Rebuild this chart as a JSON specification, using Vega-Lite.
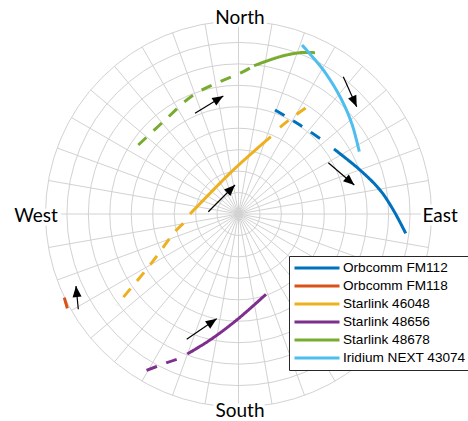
{
  "$schema": "https://vega.github.io/schema/vega-lite/v6.json",
  "width": 386,
  "height": 386,
  "autosize": {"type": "none"},
  "padding": {"left": 45.5, "top": 21, "right": 36.5, "bottom": 14},
  "config": {"view": {"stroke": null}},
  "datasets": {
    "circles": [{"r": 10}, {"r": 20}, {"r": 30}, {"r": 40}, {"r": 50}, {"r": 60}, {"r": 70}, {"r": 80}, {"r": 90}],
    "radials": [
      {"x": 0, "y": 90, "x2": 0, "y2": -90},
      {"x": 15.63, "y": 88.63, "x2": -15.63, "y2": -88.63},
      {"x": 30.78, "y": 84.57, "x2": -30.78, "y2": -84.57},
      {"x": 45.0, "y": 77.94, "x2": -45.0, "y2": -77.94},
      {"x": 57.85, "y": 68.94, "x2": -57.85, "y2": -68.94},
      {"x": 68.94, "y": 57.85, "x2": -68.94, "y2": -57.85},
      {"x": 77.94, "y": 45.0, "x2": -77.94, "y2": -45.0},
      {"x": 84.57, "y": 30.78, "x2": -84.57, "y2": -30.78},
      {"x": 88.63, "y": 15.63, "x2": -88.63, "y2": -15.63},
      {"x": 90, "y": 0, "x2": -90, "y2": 0},
      {"x": 88.63, "y": -15.63, "x2": -88.63, "y2": 15.63},
      {"x": 84.57, "y": -30.78, "x2": -84.57, "y2": 30.78},
      {"x": 77.94, "y": -45.0, "x2": -77.94, "y2": 45.0},
      {"x": 68.94, "y": -57.85, "x2": -68.94, "y2": 57.85},
      {"x": 57.85, "y": -68.94, "x2": -57.85, "y2": 68.94},
      {"x": 45.0, "y": -77.94, "x2": -45.0, "y2": 77.94},
      {"x": 30.78, "y": -84.57, "x2": -30.78, "y2": 84.57},
      {"x": 15.63, "y": -88.63, "x2": -15.63, "y2": 88.63}
    ],
    "tracks": [
      {"sat": "Starlink 48678", "seg": "g1", "dash": "dashed", "ord": 1, "x": -46.72, "y": 32.18},
      {"sat": "Starlink 48678", "seg": "g1", "dash": "dashed", "ord": 2, "x": -35.07, "y": 43.04},
      {"sat": "Starlink 48678", "seg": "g1", "dash": "dashed", "ord": 3, "x": -21.08, "y": 55.49},
      {"sat": "Starlink 48678", "seg": "g1", "dash": "dashed", "ord": 4, "x": -8.63, "y": 61.69},
      {"sat": "Starlink 48678", "seg": "g1", "dash": "dashed", "ord": 5, "x": 2.24, "y": 66.36},
      {"sat": "Starlink 48678", "seg": "g1", "dash": "dashed", "ord": 6, "x": 7.23, "y": 69.15},
      {"sat": "Starlink 48678", "seg": "g2", "dash": "solid", "ord": 1, "x": 7.23, "y": 69.15},
      {"sat": "Starlink 48678", "seg": "g2", "dash": "solid", "ord": 2, "x": 19.35, "y": 73.35},
      {"sat": "Starlink 48678", "seg": "g2", "dash": "solid", "ord": 3, "x": 28.68, "y": 75.22},
      {"sat": "Starlink 48678", "seg": "g2", "dash": "solid", "ord": 4, "x": 35.67, "y": 75.22},
      {"sat": "Iridium NEXT 43074", "seg": "c1", "dash": "solid", "ord": 1, "x": 29.61, "y": 78.81},
      {"sat": "Iridium NEXT 43074", "seg": "c1", "dash": "solid", "ord": 2, "x": 39.54, "y": 67.15},
      {"sat": "Iridium NEXT 43074", "seg": "c1", "dash": "solid", "ord": 3, "x": 47.33, "y": 54.7},
      {"sat": "Iridium NEXT 43074", "seg": "c1", "dash": "solid", "ord": 4, "x": 52.79, "y": 42.29},
      {"sat": "Iridium NEXT 43074", "seg": "c1", "dash": "solid", "ord": 5, "x": 56.33, "y": 29.05},
      {"sat": "Orbcomm FM112", "seg": "b1", "dash": "dashed", "ord": 1, "x": 17.02, "y": 48.5},
      {"sat": "Orbcomm FM112", "seg": "b1", "dash": "dashed", "ord": 2, "x": 28.68, "y": 41.5},
      {"sat": "Orbcomm FM112", "seg": "b1", "dash": "dashed", "ord": 3, "x": 39.54, "y": 34.18},
      {"sat": "Orbcomm FM112", "seg": "b2", "dash": "solid", "ord": 1, "x": 44.53, "y": 30.31},
      {"sat": "Orbcomm FM112", "seg": "b2", "dash": "solid", "ord": 2, "x": 56.66, "y": 20.52},
      {"sat": "Orbcomm FM112", "seg": "b2", "dash": "solid", "ord": 3, "x": 65.98, "y": 11.19},
      {"sat": "Orbcomm FM112", "seg": "b2", "dash": "solid", "ord": 4, "x": 72.19, "y": 1.87},
      {"sat": "Orbcomm FM112", "seg": "b2", "dash": "solid", "ord": 5, "x": 77.97, "y": -9.0},
      {"sat": "Orbcomm FM118", "seg": "o1", "dash": "solid", "ord": 1, "x": -81.23, "y": -39.03},
      {"sat": "Orbcomm FM118", "seg": "o1", "dash": "solid", "ord": 2, "x": -79.83, "y": -43.97},
      {"sat": "Starlink 46048", "seg": "y1", "dash": "dashed", "ord": 1, "x": -25.74, "y": -4.34},
      {"sat": "Starlink 46048", "seg": "y1", "dash": "dashed", "ord": 2, "x": -29.61, "y": -8.25},
      {"sat": "Starlink 46048", "seg": "y1", "dash": "dashed", "ord": 3, "x": -41.27, "y": -23.78},
      {"sat": "Starlink 46048", "seg": "y1", "dash": "dashed", "ord": 4, "x": -56.8, "y": -42.44},
      {"sat": "Starlink 46048", "seg": "y2", "dash": "solid", "ord": 1, "x": -22.62, "y": 0.0},
      {"sat": "Starlink 46048", "seg": "y2", "dash": "solid", "ord": 2, "x": -2.42, "y": 20.52},
      {"sat": "Starlink 46048", "seg": "y2", "dash": "solid", "ord": 3, "x": 15.02, "y": 36.05},
      {"sat": "Starlink 46048", "seg": "y3", "dash": "dashed", "ord": 1, "x": 19.35, "y": 40.43},
      {"sat": "Starlink 46048", "seg": "y3", "dash": "dashed", "ord": 2, "x": 25.41, "y": 45.23},
      {"sat": "Starlink 46048", "seg": "y3", "dash": "dashed", "ord": 3, "x": 31.8, "y": 49.76},
      {"sat": "Starlink 48656", "seg": "p1", "dash": "dashed", "ord": 1, "x": -28.82, "y": -67.76},
      {"sat": "Starlink 48656", "seg": "p1", "dash": "dashed", "ord": 2, "x": -34.27, "y": -69.62},
      {"sat": "Starlink 48656", "seg": "p1", "dash": "dashed", "ord": 3, "x": -44.39, "y": -73.54},
      {"sat": "Starlink 48656", "seg": "p2", "dash": "solid", "ord": 1, "x": 12.82, "y": -37.45},
      {"sat": "Starlink 48656", "seg": "p2", "dash": "solid", "ord": 2, "x": -0.84, "y": -49.43},
      {"sat": "Starlink 48656", "seg": "p2", "dash": "solid", "ord": 3, "x": -13.29, "y": -58.76},
      {"sat": "Starlink 48656", "seg": "p2", "dash": "solid", "ord": 4, "x": -23.88, "y": -65.28}
    ],
    "arrows": [
      {"x": -20.28, "y": 46.96, "x2": -7.09, "y2": 55.03, "angle": 58.6},
      {"x": -14.08, "y": 1.07, "x2": -1.63, "y2": 13.52, "angle": 45},
      {"x": -24.16, "y": -58.43, "x2": -10.17, "y2": -48.82, "angle": 55.5},
      {"x": -74.7, "y": -44.44, "x2": -75.78, "y2": -33.58, "angle": -5.6},
      {"x": 48.87, "y": 64.03, "x2": 55.12, "y2": 50.04, "angle": 155.9},
      {"x": 41.88, "y": 23.92, "x2": 54.0, "y2": 13.52, "angle": 130.6}
    ],
    "labels": [
      {"t": "North", "x": 0.7, "y": 91.2},
      {"t": "South", "x": 0.7, "y": -92.0},
      {"t": "West", "x": -94.4, "y": -0.9},
      {"t": "East", "x": 94.0, "y": -0.9}
    ]
  },
  "layer": [
    {
      "data": {"name": "circles"},
      "mark": {"type": "arc", "theta": 0, "theta2": 6.2832, "filled": false, "color": "#d2d2d2", "strokeWidth": 1},
      "encoding": {
        "radius": {"field": "r", "type": "quantitative", "stack": null, "scale": {"type": "linear", "domain": [0, 90], "range": [0, 193], "zero": true}}
      }
    },
    {
      "data": {"name": "radials"},
      "mark": {"type": "rule", "color": "#d2d2d2", "strokeWidth": 1},
      "encoding": {
        "x": {"field": "x", "type": "quantitative", "scale": {"domain": [-90, 90], "nice": false, "zero": false}, "axis": null},
        "y": {"field": "y", "type": "quantitative", "scale": {"domain": [-90, 90], "nice": false, "zero": false}, "axis": null},
        "x2": {"field": "x2"},
        "y2": {"field": "y2"}
      }
    },
    {
      "data": {"name": "tracks"},
      "mark": {"type": "line", "strokeWidth": 3, "strokeCap": "butt", "interpolate": "catmull-rom"},
      "encoding": {
        "x": {"field": "x", "type": "quantitative"},
        "y": {"field": "y", "type": "quantitative"},
        "detail": {"field": "seg"},
        "order": {"field": "ord", "type": "quantitative"},
        "strokeDash": {
          "field": "dash", "type": "nominal", "legend": null,
          "scale": {"domain": ["solid", "dashed"], "range": [[1, 0], [11, 10]]}
        },
        "color": {
          "field": "sat", "type": "nominal",
          "scale": {
            "domain": ["Orbcomm FM112", "Orbcomm FM118", "Starlink 46048", "Starlink 48656", "Starlink 48678", "Iridium NEXT 43074"],
            "range": ["#0072BD", "#D95319", "#EDB120", "#7E2F8E", "#77AC30", "#4DBEEE"]
          },
          "legend": {
            "title": null,
            "orient": "none",
            "legendX": 243.5,
            "legendY": 235,
            "padding": 4,
            "strokeColor": "#262626",
            "fillColor": "white",
            "symbolType": "stroke",
            "symbolSize": 2025,
            "symbolStrokeWidth": 3,
            "symbolOffset": 0,
            "clipHeight": 16,
            "rowPadding": 2,
            "labelOffset": 2,
            "labelFont": "Liberation Sans",
            "labelFontSize": 13.6,
            "labelColor": "black",
            "labelLimit": 300
          }
        }
      }
    },
    {
      "data": {"name": "arrows"},
      "mark": {"type": "rule", "color": "black", "strokeWidth": 1.2},
      "encoding": {
        "x": {"field": "x", "type": "quantitative"},
        "y": {"field": "y", "type": "quantitative"},
        "x2": {"field": "x2"},
        "y2": {"field": "y2"}
      }
    },
    {
      "data": {"name": "arrows"},
      "mark": {"type": "point", "shape": "M0,0L0.9,2.2L-0.9,2.2Z", "size": 100, "filled": true, "color": "black", "opacity": 1},
      "encoding": {
        "x": {"field": "x2", "type": "quantitative"},
        "y": {"field": "y2", "type": "quantitative"},
        "angle": {"field": "angle", "type": "quantitative", "scale": null}
      }
    },
    {
      "data": {"name": "labels"},
      "mark": {"type": "text", "font": "Lato", "fontSize": 19, "align": "center", "baseline": "middle", "stroke": "white", "strokeWidth": 7, "strokeJoin": "round", "fill": "white"},
      "encoding": {
        "x": {"field": "x", "type": "quantitative"},
        "y": {"field": "y", "type": "quantitative"},
        "text": {"field": "t"}
      }
    },
    {
      "data": {"name": "labels"},
      "mark": {"type": "text", "font": "Lato", "fontSize": 19, "align": "center", "baseline": "middle", "color": "black"},
      "encoding": {
        "x": {"field": "x", "type": "quantitative"},
        "y": {"field": "y", "type": "quantitative"},
        "text": {"field": "t"}
      }
    }
  ]
}
